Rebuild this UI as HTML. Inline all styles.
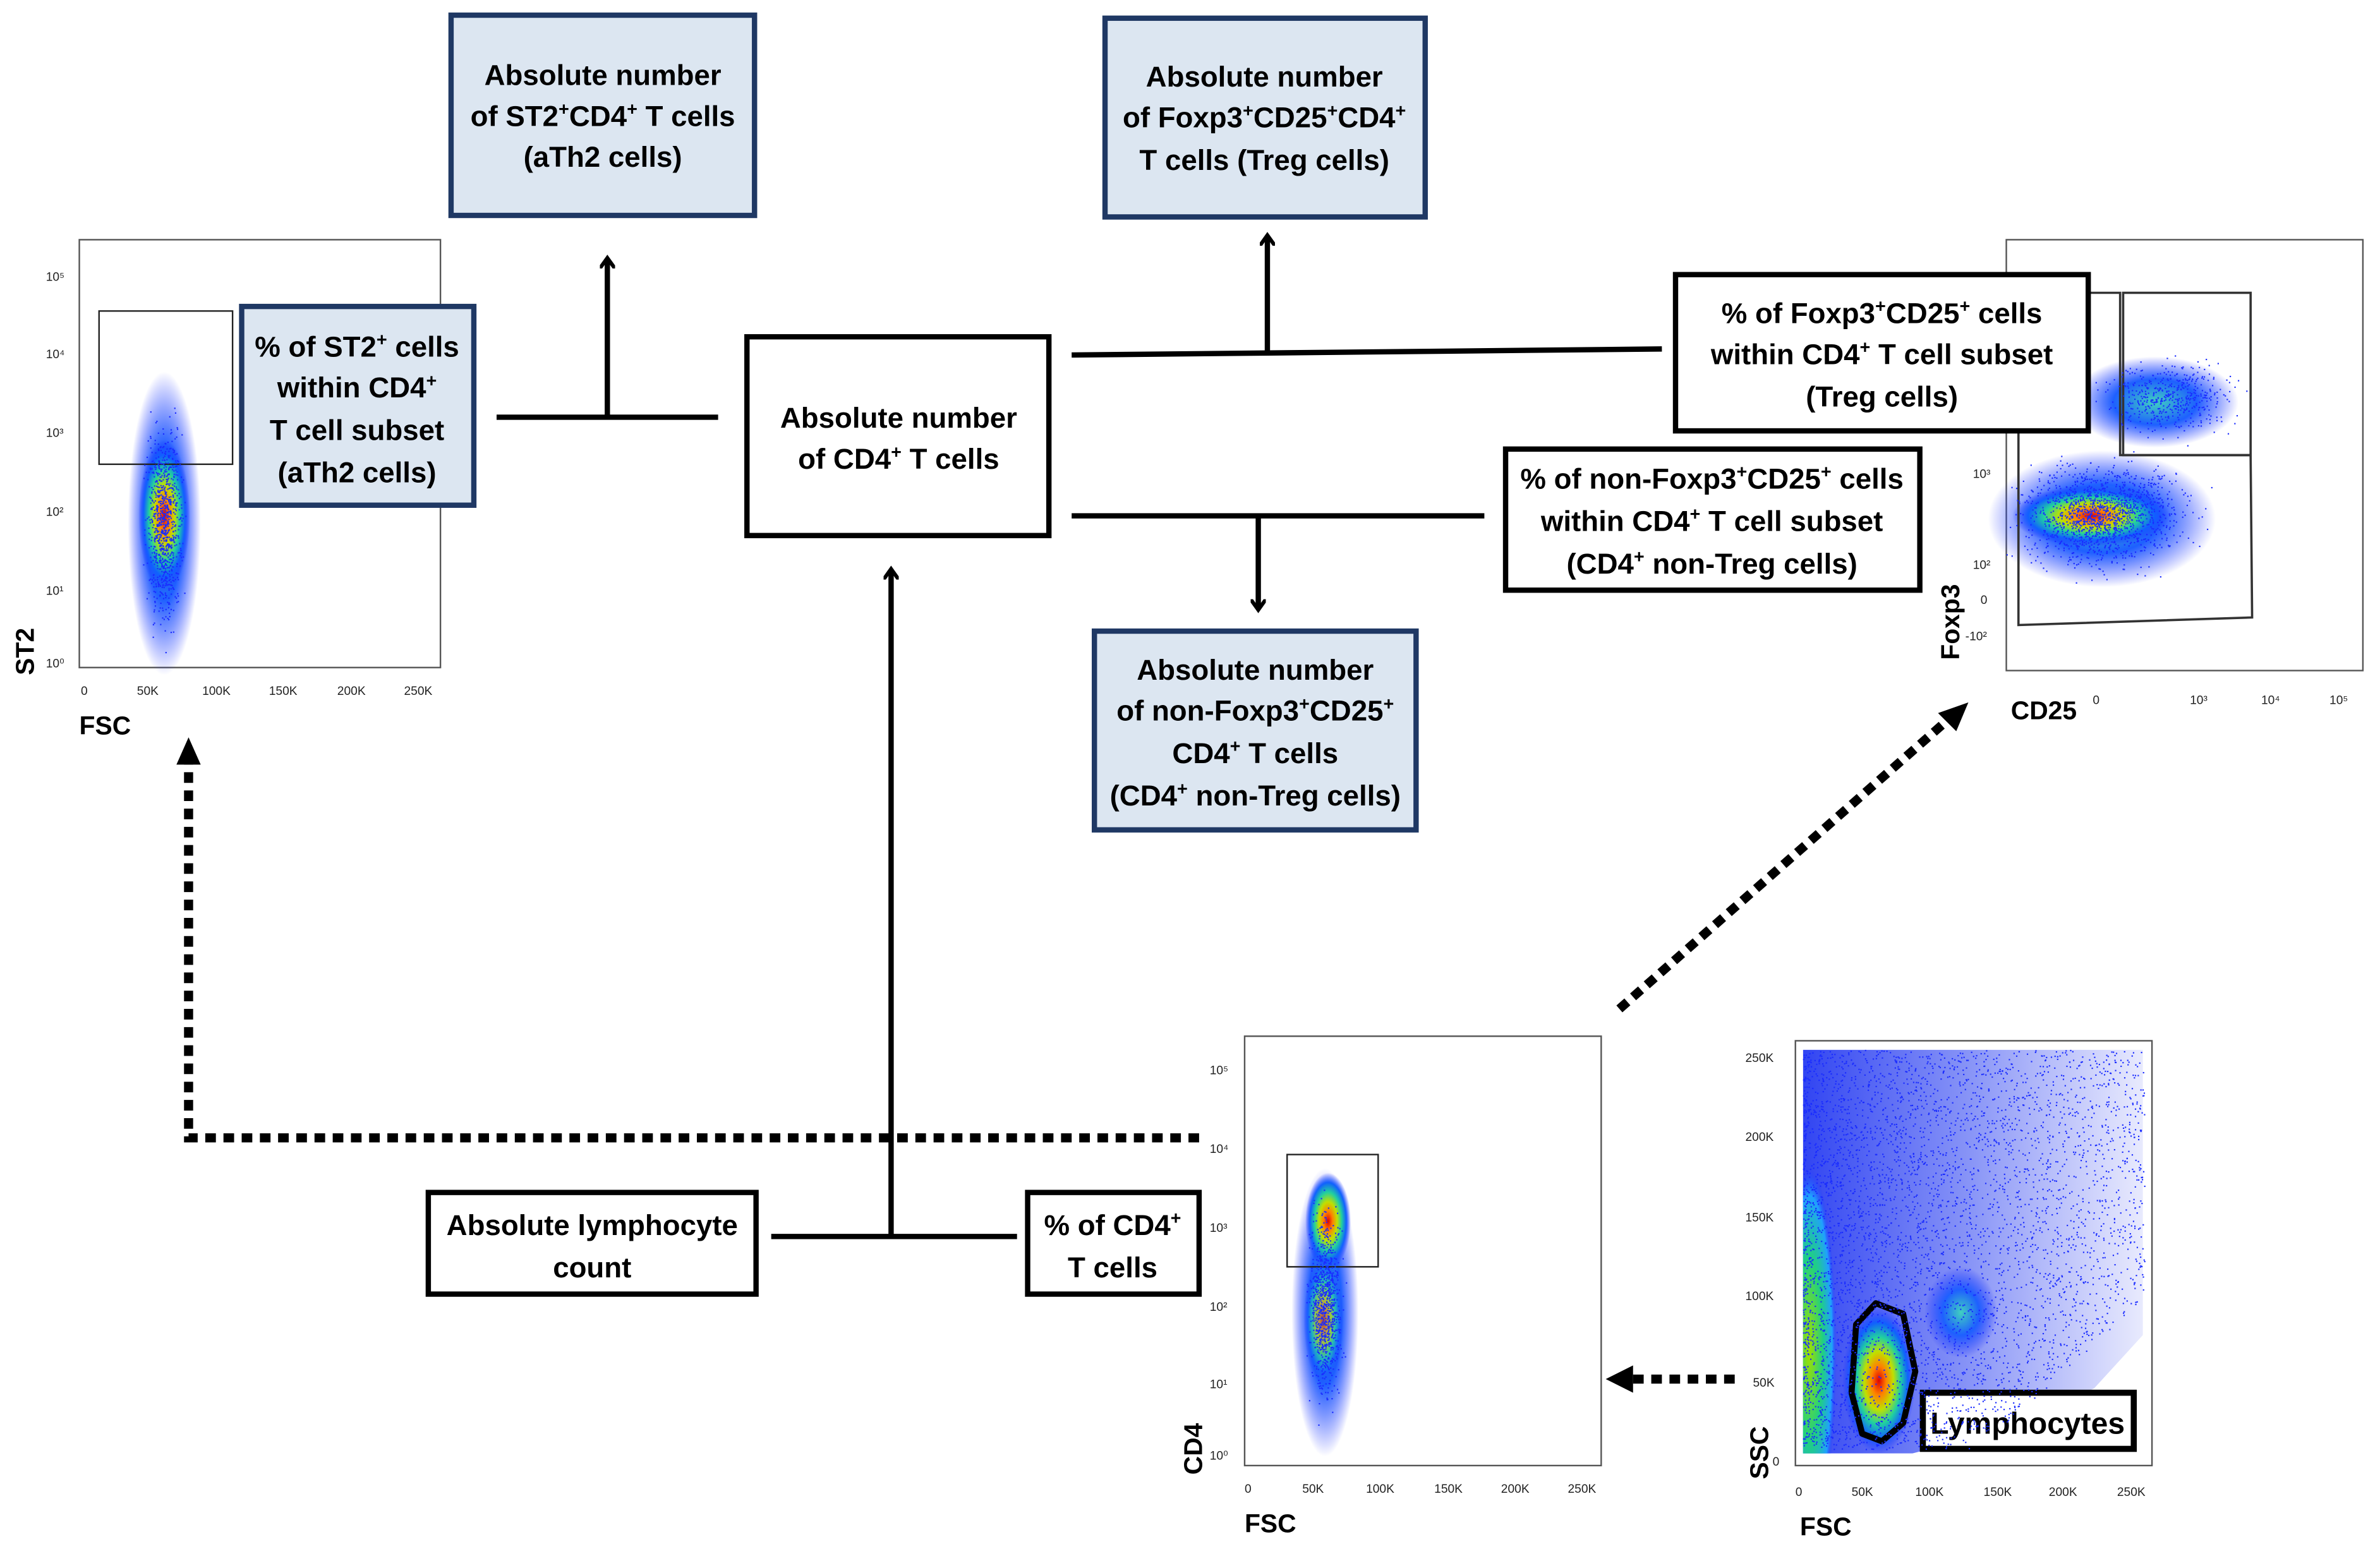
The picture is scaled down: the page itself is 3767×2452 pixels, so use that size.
<!DOCTYPE html>
<html><head><meta charset="utf-8"><style>
html,body{margin:0;padding:0;background:#fff;}
svg{display:block;}
text{font-family:"Liberation Sans",Arial,sans-serif;}
.b{font-weight:bold;font-size:19px;text-anchor:middle;}
.t{font-size:8px;fill:#222;}
.ax{font-weight:bold;font-size:17px;}
</style></head><body>
<svg id="s" width="3767" height="2452" viewBox="0 0 1568 1021" xmlns="http://www.w3.org/2000/svg">
<defs>
<radialGradient id="heat">
<stop offset="0" stop-color="#e00000"/><stop offset="0.2" stop-color="#ff8000"/><stop offset="0.4" stop-color="#c0e000"/><stop offset="0.6" stop-color="#20d0a0"/><stop offset="0.8" stop-color="#1060ff"/><stop offset="1" stop-color="#2030ff" stop-opacity="0"/>
</radialGradient>
<radialGradient id="green">
<stop offset="0" stop-color="#a0e000"/><stop offset="0.5" stop-color="#20d080"/><stop offset="0.85" stop-color="#20a0ff"/><stop offset="1" stop-color="#2030ff" stop-opacity="0"/>
</radialGradient>
<radialGradient id="cool">
<stop offset="0" stop-color="#40d0c0"/><stop offset="0.5" stop-color="#1e60ff"/><stop offset="1" stop-color="#2030ff" stop-opacity="0"/>
</radialGradient>
<linearGradient id="sscbg" x1="0" y1="0" x2="1" y2="0">
<stop offset="0" stop-color="#1a30f0" stop-opacity="0.9"/><stop offset="0.5" stop-color="#2a40f0" stop-opacity="0.55"/><stop offset="1" stop-color="#4050f0" stop-opacity="0.12"/>
</linearGradient>
<clipPath id="sscclip"><rect x="1188" y="690" width="226" height="268"/></clipPath>
<marker id="ah" markerWidth="10" markerHeight="10" refX="5" refY="5" orient="auto" markerUnits="userSpaceOnUse" viewBox="0 0 10 10">
<path d="M0,0 L7,5 L0,10" fill="none" stroke="#000" stroke-width="2.5"/>
</marker>
</defs>

<g>
<rect x="52" y="158" width="238" height="282" fill="#fff" stroke="#555" stroke-width="1"/>
<ellipse cx="108" cy="345" rx="24" ry="100" fill="url(#cool)"/>
<ellipse cx="108" cy="340" rx="17" ry="50" fill="url(#heat)"/>
<rect x="65" y="205" width="88" height="101" fill="none" stroke="#222" stroke-width="1"/>
<text class="t" x="30" y="185">10⁵</text><text class="t" x="30" y="236">10⁴</text><text class="t" x="30" y="288">10³</text><text class="t" x="30" y="340">10²</text><text class="t" x="30" y="392">10¹</text><text class="t" x="30" y="440">10⁰</text>
<text class="t" x="53" y="458">0</text><text class="t" x="90" y="458">50K</text><text class="t" x="133" y="458">100K</text><text class="t" x="177" y="458">150K</text><text class="t" x="222" y="458">200K</text><text class="t" x="266" y="458">250K</text>
<text class="ax" x="52" y="484">FSC</text>
<text class="ax" transform="translate(22,445) rotate(-90)">ST2</text>
</g>

<g>
<rect x="1322" y="158" width="235" height="284" fill="#fff" stroke="#555" stroke-width="1"/>
<ellipse cx="1385" cy="342" rx="75" ry="45" fill="url(#cool)"/>
<ellipse cx="1378" cy="340" rx="52" ry="20" fill="url(#heat)"/>
<ellipse cx="1420" cy="265" rx="55" ry="30" fill="url(#cool)"/>
<path d="M1330,193 L1397,193 L1397,300 L1483,300 L1484,407 L1330,412 Z" fill="none" stroke="#333" stroke-width="1.5"/>
<rect x="1399" y="193" width="84" height="107" fill="none" stroke="#333" stroke-width="1.5"/>
<text class="t" x="1300" y="315">10³</text><text class="t" x="1300" y="375">10²</text><text class="t" x="1305" y="398">0</text><text class="t" x="1295" y="422">-10²</text>
<text class="t" x="1379" y="464">0</text><text class="t" x="1443" y="464">10³</text><text class="t" x="1490" y="464">10⁴</text><text class="t" x="1535" y="464">10⁵</text>
<text class="ax" x="1325" y="474">CD25</text>
<text class="ax" transform="translate(1291,435) rotate(-90)">Foxp3</text>
</g>

<g>
<rect x="820" y="683" width="235" height="283" fill="#fff" stroke="#555" stroke-width="1"/>
<ellipse cx="873" cy="865" rx="22" ry="95" fill="url(#cool)"/>
<ellipse cx="875" cy="805" rx="15" ry="32" fill="url(#heat)"/>
<ellipse cx="872" cy="870" rx="13" ry="42" fill="url(#heat)" opacity="0.7"/>
<rect x="848" y="761" width="60" height="74" fill="none" stroke="#222" stroke-width="1"/>
<text class="t" x="797" y="708">10⁵</text><text class="t" x="797" y="760">10⁴</text><text class="t" x="797" y="812">10³</text><text class="t" x="797" y="864">10²</text><text class="t" x="797" y="915">10¹</text><text class="t" x="797" y="962">10⁰</text>
<text class="t" x="820" y="984">0</text><text class="t" x="858" y="984">50K</text><text class="t" x="900" y="984">100K</text><text class="t" x="945" y="984">150K</text><text class="t" x="989" y="984">200K</text><text class="t" x="1033" y="984">250K</text>
<text class="ax" x="820" y="1010">FSC</text>
<text class="ax" transform="translate(792,972) rotate(-90)">CD4</text>
</g>

<g>
<rect x="1183" y="686" width="235" height="280" fill="#fff" stroke="#555" stroke-width="1"/>
<g clip-path="url(#sscclip)">
<path d="M1188,692 L1412,692 L1412,880 L1380,915 L1330,940 L1260,958 L1188,958 Z" fill="url(#sscbg)"/>
<ellipse cx="1192" cy="890" rx="18" ry="120" fill="url(#green)"/>
<ellipse cx="1292" cy="865" rx="24" ry="30" fill="url(#cool)"/>
<ellipse cx="1238" cy="910" rx="24" ry="48" fill="url(#heat)"/>
</g>
<path d="M1236,859 L1254,866 L1262,904 L1254,938 L1240,950 L1227,945 L1220,918 L1223,873 Z" fill="none" stroke="#000" stroke-width="4" stroke-linejoin="round"/>
<rect x="1267" y="918" width="139" height="37" fill="#fff" stroke="#000" stroke-width="4"/>
<text x="1336" y="945" class="b" style="font-size:20px">Lymphocytes</text>
<text class="t" x="1150" y="700">250K</text><text class="t" x="1150" y="752">200K</text><text class="t" x="1150" y="805">150K</text><text class="t" x="1150" y="857">100K</text><text class="t" x="1155" y="914">50K</text><text class="t" x="1168" y="966">0</text>
<text class="t" x="1183" y="986">0</text><text class="t" x="1220" y="986">50K</text><text class="t" x="1262" y="986">100K</text><text class="t" x="1307" y="986">150K</text><text class="t" x="1350" y="986">200K</text><text class="t" x="1395" y="986">250K</text>
<text class="ax" x="1186" y="1012">FSC</text>
<text class="ax" transform="translate(1165,975) rotate(-90)">SSC</text>
</g>

<g id="dots"></g>

<g stroke-width="3.5">
<rect x="297" y="10" width="200" height="132" fill="#dce6f1" stroke="#1f3864"/>
<rect x="728" y="12" width="211" height="131" fill="#dce6f1" stroke="#1f3864"/>
<rect x="721" y="416" width="212" height="131" fill="#dce6f1" stroke="#1f3864"/>
<rect x="159" y="202" width="153" height="131" fill="#dce6f1" stroke="#1f3864"/>
<rect x="492" y="222" width="199" height="131" fill="#fff" stroke="#000"/>
<rect x="1104" y="181" width="272" height="103" fill="#fff" stroke="#000"/>
<rect x="992" y="296" width="273" height="93" fill="#fff" stroke="#000"/>
<rect x="282" y="786" width="216" height="67" fill="#fff" stroke="#000"/>
<rect x="677" y="786" width="113" height="67" fill="#fff" stroke="#000"/>
</g>
<g>
<text class="b" x="397" y="56">Absolute number</text>
<text class="b" x="397" y="83">of ST2<tspan font-size="12" dy="-7">+</tspan><tspan dy="7">CD4</tspan><tspan font-size="12" dy="-7">+</tspan><tspan dy="7"> T cells</tspan></text>
<text class="b" x="397" y="110">(aTh2 cells)</text>
<text class="b" x="833" y="57">Absolute number</text>
<text class="b" x="833" y="84">of Foxp3<tspan font-size="12" dy="-7">+</tspan><tspan dy="7">CD25</tspan><tspan font-size="12" dy="-7">+</tspan><tspan dy="7">CD4</tspan><tspan font-size="12" dy="-7">+</tspan></text>
<text class="b" x="833" y="112">T cells (Treg cells)</text>
<text class="b" x="827" y="448">Absolute number</text>
<text class="b" x="827" y="475">of non-Foxp3<tspan font-size="12" dy="-7">+</tspan><tspan dy="7">CD25</tspan><tspan font-size="12" dy="-7">+</tspan></text>
<text class="b" x="827" y="503">CD4<tspan font-size="12" dy="-7">+</tspan><tspan dy="7"> T cells</tspan></text>
<text class="b" x="827" y="531">(CD4<tspan font-size="12" dy="-7">+</tspan><tspan dy="7"> non-Treg cells)</tspan></text>
<text class="b" x="235" y="235">% of ST2<tspan font-size="12" dy="-7">+</tspan><tspan dy="7"> cells</tspan></text>
<text class="b" x="235" y="262">within CD4<tspan font-size="12" dy="-7">+</tspan></text>
<text class="b" x="235" y="290">T cell subset</text>
<text class="b" x="235" y="318">(aTh2 cells)</text>
<text class="b" x="592" y="282">Absolute number</text>
<text class="b" x="592" y="309">of CD4<tspan font-size="12" dy="-7">+</tspan><tspan dy="7"> T cells</tspan></text>
<text class="b" x="1240" y="213">% of Foxp3<tspan font-size="12" dy="-7">+</tspan><tspan dy="7">CD25</tspan><tspan font-size="12" dy="-7">+</tspan><tspan dy="7"> cells</tspan></text>
<text class="b" x="1240" y="240">within CD4<tspan font-size="12" dy="-7">+</tspan><tspan dy="7"> T cell subset</tspan></text>
<text class="b" x="1240" y="268">(Treg cells)</text>
<text class="b" x="1128" y="322">% of non-Foxp3<tspan font-size="12" dy="-7">+</tspan><tspan dy="7">CD25</tspan><tspan font-size="12" dy="-7">+</tspan><tspan dy="7"> cells</tspan></text>
<text class="b" x="1128" y="350">within CD4<tspan font-size="12" dy="-7">+</tspan><tspan dy="7"> T cell subset</tspan></text>
<text class="b" x="1128" y="378">(CD4<tspan font-size="12" dy="-7">+</tspan><tspan dy="7"> non-Treg cells)</tspan></text>
<text class="b" x="390" y="814">Absolute lymphocyte</text>
<text class="b" x="390" y="842">count</text>
<text class="b" x="733" y="814">% of CD4<tspan font-size="12" dy="-7">+</tspan></text>
<text class="b" x="733" y="842">T cells</text>
</g>

<g stroke="#000" stroke-width="3.5" fill="none">
<line x1="327" y1="275" x2="473" y2="275"/>
<line x1="400" y1="275" x2="400" y2="172" marker-end="url(#ah)"/>
<line x1="706" y1="234" x2="1095" y2="230"/>
<line x1="835" y1="232" x2="835" y2="157" marker-end="url(#ah)"/>
<line x1="706" y1="340" x2="978" y2="340"/>
<line x1="829" y1="340" x2="829" y2="400" marker-end="url(#ah)"/>
<line x1="508" y1="815" x2="670" y2="815"/>
<line x1="587" y1="815" x2="587" y2="377" marker-end="url(#ah)"/>
</g>
<g stroke="#000" stroke-width="6" fill="none" stroke-dasharray="7,5">
<polyline points="790,750 124,750 124,502"/>
<line x1="1067" y1="665" x2="1284" y2="474"/>
<line x1="1143" y1="909" x2="1072" y2="909"/>
</g>
<path d="M124,486 L116,504 L132,504 Z" fill="#000"/>
<path d="M1297,463 L1277,470 L1289,482 Z" fill="#000"/>
<path d="M1058,909 L1076,900 L1076,918 Z" fill="#000"/>
</svg>
<script>
(function(){
var s=12345;function r(){s=(s*1103515245+12345)%2147483648;return s/2147483648;}
function g(){return (r()+r()+r()+r()-2)/1.2;}
var G=document.getElementById("dots"),h="";
function d(x,y){h+='<rect x="'+x.toFixed(1)+'" y="'+y.toFixed(1)+'" width="0.9" height="0.9" fill="#1a2cff"/>';}
function cl(cx,cy,sx,sy,n,x0,y0,x1,y1){for(var i=0;i<n;i++){var x=cx+g()*sx,y=cy+g()*sy;if(x<x0||x>x1||y<y0||y>y1)continue;d(x,y);}}
cl(108,345,11,60,900,52,250,290,440);
cl(1385,340,50,32,1500,1322,158,1557,442);
cl(1430,262,38,22,500,1322,158,1557,442);
cl(873,860,10,58,900,820,683,1055,966);
for(var i=0;i<5000;i++){var x=1188+Math.pow(r(),1.4)*225,y=692+r()*263;if(y<958-(x-1300)*0.9)d(x,y);}
G.innerHTML=h;
})();
</script>
</body></html>
